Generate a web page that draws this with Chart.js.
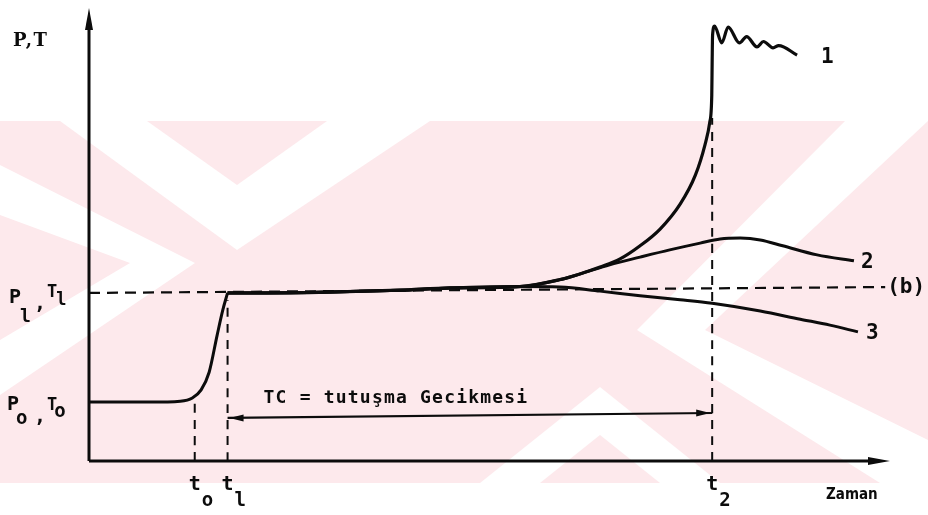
<!DOCTYPE html>
<html>
<head>
<meta charset="utf-8">
<script src="https://cdn.jsdelivr.net/npm/chart.js@4.4.0/dist/chart.umd.min.js"></script>
<style>
  html, body { margin: 0; padding: 0; background: #fff; }
  #wrap { width: 928px; height: 515px; }
</style>
</head>
<body>
<div id="wrap"><canvas id="chart"></canvas></div>
<script>
// Axis units: time 0..100 (x), P/T 0..100 (y)

// time marks t0, t1, t2 and their subscripts
const tMarks = [13.2, 17.3, 77.8];
const tSubs = ["o", "l", "2"];
// top end of the dashed drop lines at each mark
const tTops = [13.0, 35.5, 75.7];
// P0,T0 and P1,T1 levels
const levels = [13.0, 37.1];

// P0,T0 plateau and rise up to P1,T1 at t1
const riseX = [0, 7.6, 11.4, 12.9, 14.0, 15.0, 16.0, 16.7, 17.3];
const riseY = [13.0, 13.0, 13.2, 13.9, 15.7, 19.6, 27.8, 33.3, 37.1];

// common path after t1
const flatX = [17.3, 21.3, 30.1, 38.8, 45.1, 53.8];
const flatY = [37.1, 37.1, 37.3, 37.7, 38.2, 38.5];

// curve 1 - ignition, with oscillations
const c1X = [58.7, 61.3, 63.8, 66.3, 68.8, 71.3, 73.8, 75.7, 76.9, 77.5, 77.75, 77.8, 77.85, 78.1, 79.0, 79.8, 81.2, 82.1, 83.4, 84.2, 85.4, 86.1, 88.4];
const c1Y = [40.0, 41.3, 42.8, 44.6, 47.5, 51.2, 56.7, 63.1, 69.8, 74.8, 80.8, 88.5, 94.0, 96.0, 92.3, 95.8, 92.3, 93.7, 91.4, 92.6, 91.2, 91.7, 89.6];

// curve 2
const c2X = [58.7, 61.3, 65.0, 68.8, 72.5, 76.3, 78.8, 81.3, 83.8, 86.6, 90.9, 95.5];
const c2Y = [40.0, 41.3, 43.3, 45.0, 46.6, 48.1, 49.0, 49.2, 48.8, 47.5, 45.5, 44.2];

// curve 3
const c3X = [58.8, 63.8, 68.8, 73.8, 77.8, 83.8, 88.8, 92.5, 96.0];
const c3Y = [38.4, 37.5, 36.5, 35.6, 34.8, 33.1, 31.3, 30.0, 28.5];

// reference level (b)
const refX = [0, 99.4];
const refY = [37.1, 38.4];

// ignition delay span t1 -> t2
const delayX = [17.3, 77.8];
const delayY = [9.5, 10.6];
const delayText = "TC = tutuşma Gecikmesi";

const curveNames = ["1", "2", "3"];

function pts(xs, ys) {
    return xs.map((x, i) => ({ x: x, y: ys[i] }));
}

const ink = "#0c0c0c";

const lineBase = {
    borderColor: ink,
    borderWidth: 3,
    pointRadius: 0,
    fill: false,
    cubicInterpolationMode: "monotone",
};

const datasets = [
    Object.assign({}, lineBase, { label: "rise", data: pts(riseX, riseY) }),
    Object.assign({}, lineBase, { label: "1", data: pts(flatX.concat(c1X), flatY.concat(c1Y)), borderWidth: 3.2 }),
    Object.assign({}, lineBase, { label: "2", data: pts(flatX.concat(c2X), flatY.concat(c2Y)) }),
    Object.assign({}, lineBase, { label: "3", data: pts(flatX.concat(c3X), flatY.concat(c3Y)) }),
    Object.assign({}, lineBase, { label: "b", data: pts(refX, refY), borderWidth: 2.2, borderDash: [11, 7] }),
    Object.assign({}, lineBase, { label: "delay", data: pts(delayX, delayY), borderWidth: 2.2 }),
];

// dashed drop lines at t0, t1, t2
tMarks.forEach((t, i) => {
    datasets.push(Object.assign({}, lineBase, {
        label: "drop" + i,
        data: [{ x: t, y: 0 }, { x: t, y: tTops[i] }],
        borderWidth: 2,
        borderDash: [9, 7],
    }));
});

// pink watermark of the scanned page
function poly(ctx, p) {
    ctx.moveTo(p[0], p[1]);
    for (let i = 2; i < p.length; i += 2) ctx.lineTo(p[i], p[i + 1]);
    ctx.closePath();
}

const watermark = {
    id: "watermark",
    beforeDraw(chart) {
        const ctx = chart.ctx;
        ctx.save();
        ctx.fillStyle = "#fde9ec";
        ctx.fillRect(0, 121, 928, 362);
        ctx.fillStyle = "#ffffff";
        ctx.beginPath();
        poly(ctx, [60, 121, 147, 121, 237, 185, 327, 121, 430, 121, 237, 250]);
        poly(ctx, [0, 165, 195, 263, 0, 395, 0, 340, 130, 263, 0, 215]);
        poly(ctx, [845, 121, 928, 121, 705, 330, 928, 440, 928, 483, 880, 483, 637, 330]);
        poly(ctx, [480, 483, 600, 387, 720, 483, 660, 483, 600, 435, 540, 483]);
        ctx.fill();
        ctx.restore();
    }
};

function arrowHead(ctx, x, y, dx, dy, len, half) {
    const nx = -dy, ny = dx;
    ctx.beginPath();
    ctx.moveTo(x, y);
    ctx.lineTo(x - dx * len + nx * half, y - dy * len + ny * half);
    ctx.lineTo(x - dx * len - nx * half, y - dy * len - ny * half);
    ctx.closePath();
    ctx.fill();
}

function drawSub(ctx, main, sub, x, y, size, subSize, dx, dy, font) {
    ctx.font = "bold " + size + "px " + font;
    ctx.fillText(main, x, y);
    const w = ctx.measureText(main).width;
    ctx.font = "bold " + subSize + "px " + font;
    ctx.fillText(sub, x + w + dx, y + dy);
}

const annotations = {
    id: "annotations",
    afterDatasetsDraw(chart) {
        const ctx = chart.ctx;
        const xs = chart.scales.x, ys = chart.scales.y;
        const X = (v) => xs.getPixelForValue(v);
        const Y = (v) => ys.getPixelForValue(v);
        const mono = '"DejaVu Sans Mono", monospace';
        ctx.save();
        ctx.fillStyle = ink;
        ctx.strokeStyle = ink;

        // axes with arrows
        ctx.lineWidth = 3;
        ctx.beginPath();
        ctx.moveTo(X(0), Y(0));
        ctx.lineTo(X(0), chart.chartArea.top + 14);
        ctx.moveTo(X(0), Y(0));
        ctx.lineTo(chart.chartArea.right - 14, Y(0));
        ctx.stroke();
        arrowHead(ctx, X(0), chart.chartArea.top, 0, -1, 22, 4);
        arrowHead(ctx, chart.chartArea.right, Y(0), 1, 0, 22, 4);

        // delay span arrows and text
        arrowHead(ctx, X(delayX[0]) + 2, Y(delayY[0]), -1, 0, 14, 3.5);
        arrowHead(ctx, X(delayX[1]) - 2, Y(delayY[1]), 1, 0, 14, 3.5);
        ctx.font = 'bold 18px ' + mono;
        ctx.textBaseline = "middle";
        ctx.textAlign = "left";
        ctx.letterSpacing = "1.2px";
        ctx.fillText(delayText, X(delayX[0]) + 36, Y(delayY[0]) - 20);
        ctx.letterSpacing = "0px";

        // curve numbers at line ends
        const ends = [
            [c1X[c1X.length - 1], c1Y[c1Y.length - 1], 24],
            [c2X[c2X.length - 1], c2Y[c2Y.length - 1], 7],
            [c3X[c3X.length - 1], c3Y[c3Y.length - 1], 8],
        ];
        ctx.font = 'bold 21px ' + mono;
        ends.forEach((e, i) => {
            ctx.fillText(curveNames[i], X(e[0]) + e[2], Y(e[1]) + 2);
        });
        ctx.fillText("(b)", X(refX[1]) + 2, Y(refY[1]));

        // y axis labels
        ctx.font = 'bold 18px "DejaVu Serif", serif';
        ctx.letterSpacing = "1.5px";
        ctx.fillText("P,T", 13, 41);
        ctx.letterSpacing = "0px";
        ctx.textBaseline = "alphabetic";
        const y1 = Y(levels[1]), y0 = Y(levels[0]);
        drawSub(ctx, "P", "l", 9, y1 + 10, 20, 18, -1, 19, mono);
        ctx.font = 'bold 20px ' + mono;
        ctx.fillText(",", 34, y1 + 16);
        drawSub(ctx, "T", "l", 47, y1 + 4, 17, 17, -1, 8, mono);

        drawSub(ctx, "P", "o", 7, y0 + 8, 20, 19, -3, 14, mono);
        ctx.font = 'bold 20px ' + mono;
        ctx.fillText(",", 34, y0 + 20);
        drawSub(ctx, "T", "o", 47, y0 + 8, 17, 19, -3, 7, mono);

        // x axis labels
        tMarks.forEach((t, i) => {
            drawSub(ctx, "t", tSubs[i], X(t) - 6, Y(0) + 29, 20, 19, 1, 16, mono);
        });
        ctx.font = 'bold 15px "DejaVu Sans Condensed", "DejaVu Sans", sans-serif';
        ctx.fillText("Zaman", 826, Y(0) + 38);
        ctx.restore();
    }
};

new Chart(document.getElementById("chart"), {
    type: "line",
    data: { datasets: datasets },
    options: {
        responsive: true,
        maintainAspectRatio: false,
        animation: false,
        layout: { padding: { left: 89, right: 38, top: 8, bottom: 54 } },
        plugins: { legend: { display: false }, tooltip: { enabled: false } },
        scales: {
            x: { type: "linear", min: 0, max: 100, display: false },
            y: { type: "linear", min: 0, max: 100, display: false },
        },
    },
    plugins: [watermark, annotations],
});
</script>
</body>
</html>
